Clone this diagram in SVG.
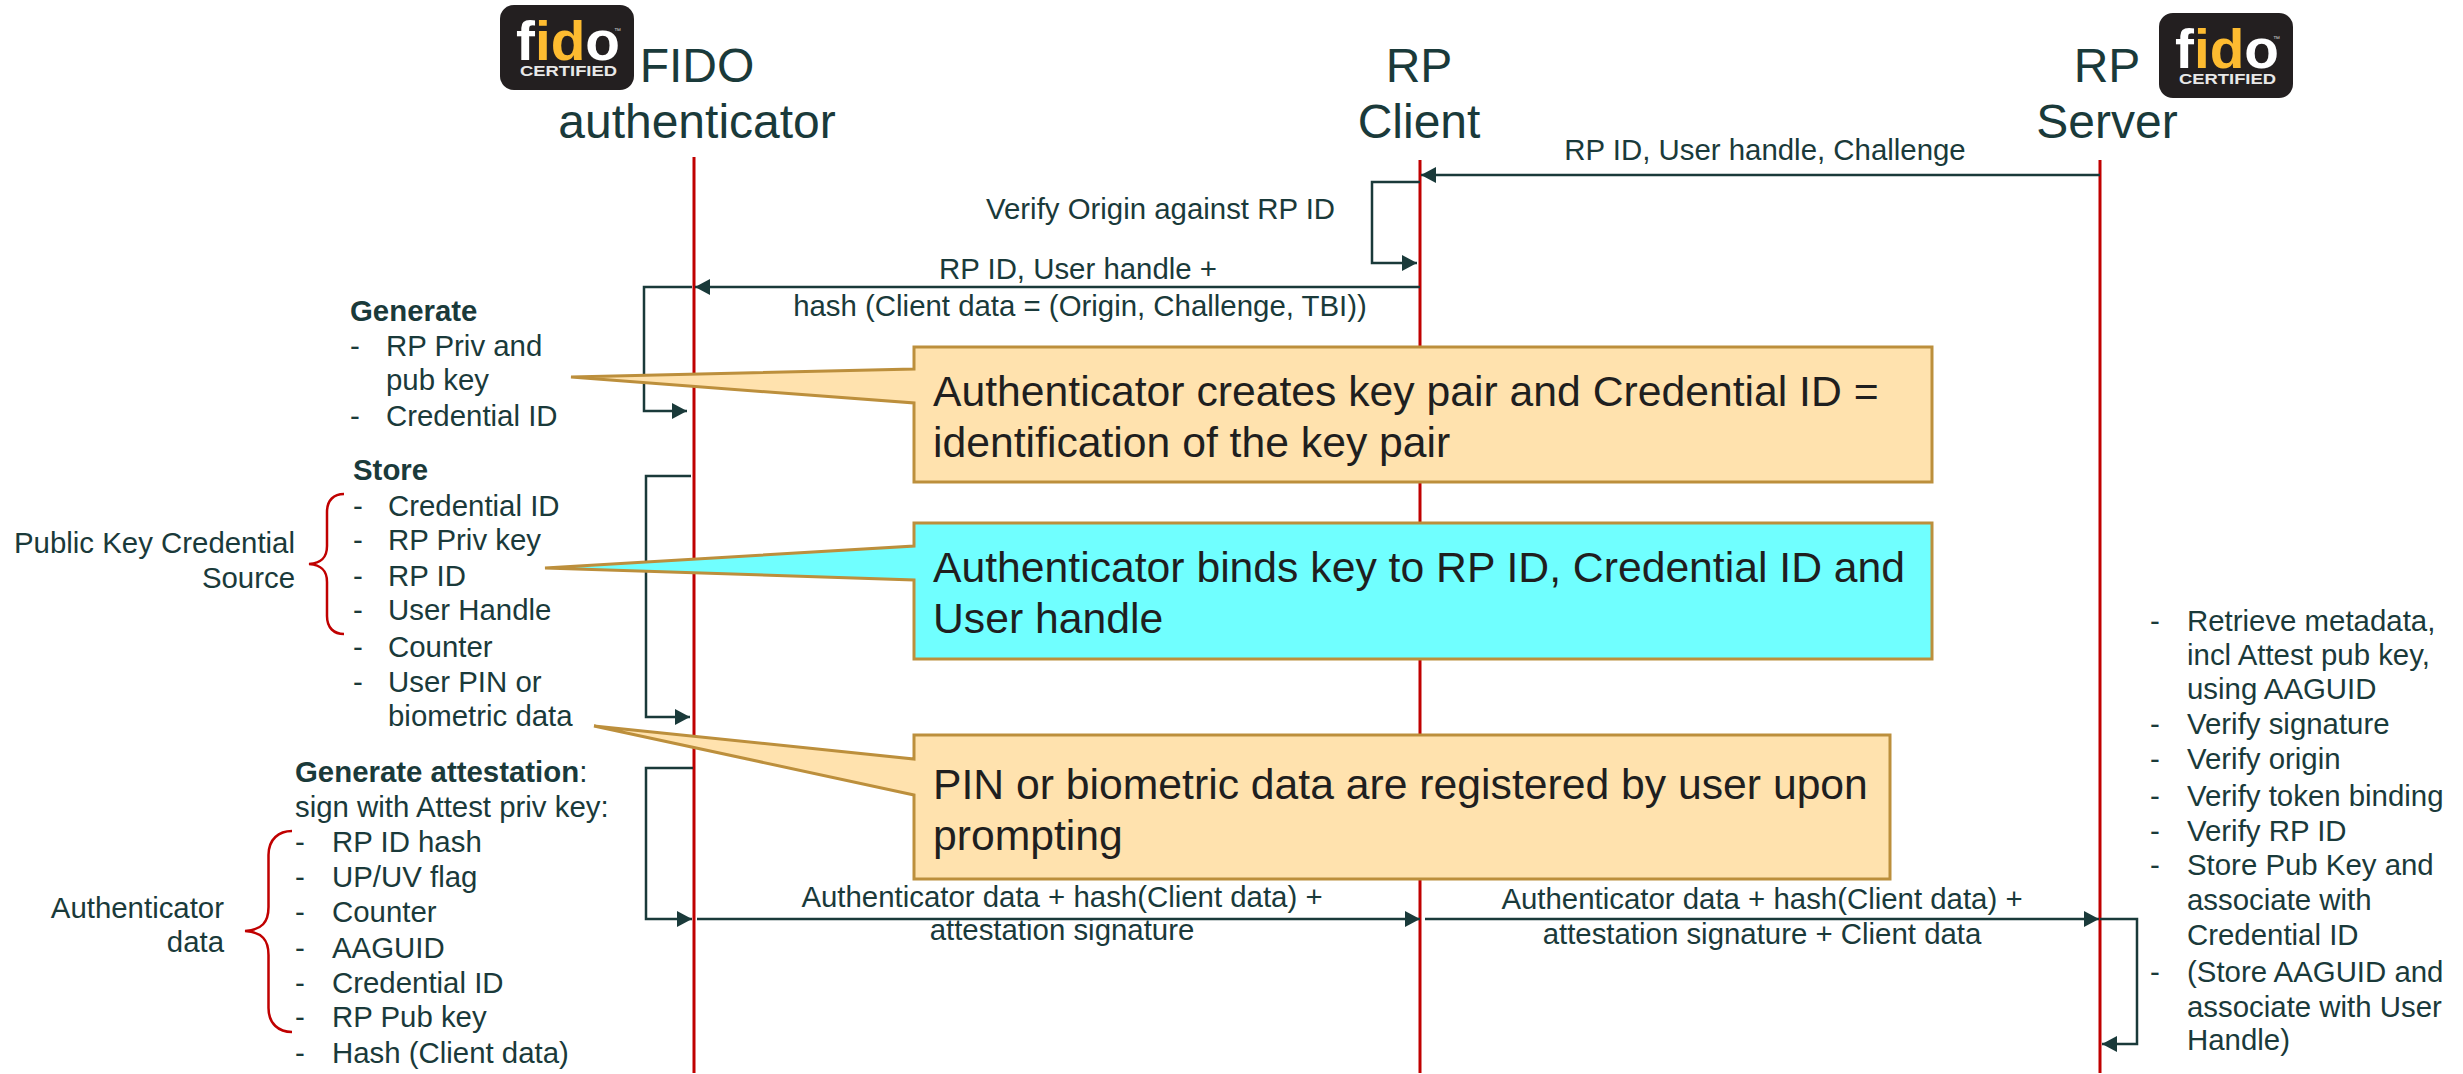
<svg xmlns="http://www.w3.org/2000/svg" xmlns:xlink="http://www.w3.org/1999/xlink" width="2463" height="1074" viewBox="0 0 2463 1074">
<style>
text{font-family:"Liberation Sans",Arial,sans-serif;fill:#1a3a3a;font-size:29.4px}
.t{font-size:48px}
.c{font-size:42.7px;fill:#1f1f1f}
.m{text-anchor:middle}
.e{text-anchor:end}
.b{font-weight:bold}
.life{stroke:#c00000;stroke-width:3;fill:none}
.brace{stroke:#c00000;stroke-width:2.5;fill:none}
.msg{stroke:#1a3a3a;stroke-width:2.5;fill:none}
.arr{marker-end:url(#ah)}
.call{stroke:#bc8f3c;stroke-width:3;stroke-linejoin:miter}
.or{fill:#ffe2ae}
.cy{fill:#70ffff}
.lg{font-weight:bold;font-size:56px}
.lc{font-weight:bold;font-size:15px;fill:#e8e8e8}
.tm{font-size:7px;fill:#ccc}
</style>
<defs>
<marker id="ah" markerUnits="userSpaceOnUse" markerWidth="16" markerHeight="16" refX="15" refY="8" orient="auto"><path d="M0 0L15 8L0 16Z" fill="#1a3a3a"/></marker>
<g id="logo">
<rect x="0" y="0" width="134" height="85" rx="14" fill="#231f20"/>
<text x="16" y="55" class="lg" textLength="104" lengthAdjust="spacingAndGlyphs"><tspan fill="#fff">f</tspan><tspan fill="#fdbb30">id</tspan><tspan fill="#fff">o</tspan></text>
<text x="114" y="28" class="tm">™</text>
<text x="20" y="71" class="lc" textLength="97" lengthAdjust="spacingAndGlyphs">CERTIFIED</text>
</g>
</defs>
<rect width="2463" height="1074" fill="#fff"/>
<g id="connectors">
<path class="life" d="M694 157V1073M1420 160V1073M2100 160V1073"/>
<path class="msg arr" d="M2100 175H1421"/>
<path class="msg arr" d="M1420 182H1372V263H1417"/>
<path class="msg arr" d="M1420 287H695"/>
<path class="msg arr" d="M692 287H644V411H687"/>
<path class="msg arr" d="M691 476H646V717H690"/>
<path class="msg arr" d="M693 768H646V919H692"/>
<path class="msg arr" d="M697 919H1420"/>
<path class="msg arr" d="M1425 919H2099"/>
<path class="msg arr" d="M2100 919H2137V1044H2102"/>
<path class="brace" d="M344 494C334 494 327 500 327 512V546C327 557 322 563 309 564C322 565 327 571 327 582V616C327 628 334 634 344 634"/>
<path class="brace" d="M292 831C279 831 268.500 839 268.500 855V907C268.500 922 262 930 245 931C262 932 268.500 940 268.500 955V1008C268.500 1024 279 1032 292 1032"/>
</g>
<g id="logo-left"><use href="#logo" x="500" y="5"/></g>
<g id="logo-right"><use href="#logo" x="2159" y="13"/></g>
<g id="fido-authenticator">
<text class="t m" x="697" y="82">FIDO</text>
<text class="t m" x="697" y="138">authenticator</text>
</g>
<g id="rp-client">
<text class="t m" x="1419" y="82">RP</text>
<text class="t m" x="1419" y="138">Client</text>
</g>
<g id="rp-server">
<text class="t m" x="2107" y="82">RP</text>
<text class="t m" x="2107" y="138">Server</text>
</g>
<g id="message-labels">
<text class="m" x="1765" y="160">RP ID, User handle, Challenge</text>
<text x="986" y="219">Verify Origin against RP ID</text>
<text class="e" x="1217" y="279">RP ID, User handle +</text>
<text class="m" x="1080" y="316">hash (Client data = (Origin, Challenge, TBI))</text>
<text class="m" x="1062" y="907">Authenticator data + hash(Client data) +</text>
<text class="m" x="1062" y="940">attestation signature</text>
<text class="m" x="1762" y="909">Authenticator data + hash(Client data) +</text>
<text class="m" x="1762" y="944">attestation signature + Client data</text>
</g>
<g id="generate-notes">
<text class="b" x="350" y="321">Generate</text>
<text x="350" y="356">-</text><text x="386" y="356">RP Priv and</text>
<text x="386" y="390">pub key</text>
<text x="350" y="426">-</text><text x="386" y="426">Credential ID</text>
</g>
<g id="store-notes">
<text class="b" x="353" y="480">Store</text>
<text x="353" y="516">-</text><text x="388" y="516">Credential ID</text>
<text x="353" y="550">-</text><text x="388" y="550">RP Priv key</text>
<text x="353" y="586">-</text><text x="388" y="586">RP ID</text>
<text x="353" y="620">-</text><text x="388" y="620">User Handle</text>
<text x="353" y="657">-</text><text x="388" y="657">Counter</text>
<text x="353" y="692">-</text><text x="388" y="692">User PIN or</text>
<text x="388" y="726">biometric data</text>
<text class="e" x="295" y="553">Public Key Credential</text>
<text class="e" x="295" y="588">Source</text>
</g>
<g id="attestation-notes">
<text x="295" y="782"><tspan class="b">Generate attestation</tspan>:</text>
<text x="295" y="817">sign with Attest priv key:</text>
<text x="295" y="852">-</text><text x="332" y="852">RP ID hash</text>
<text x="295" y="887">-</text><text x="332" y="887">UP/UV flag</text>
<text x="295" y="922">-</text><text x="332" y="922">Counter</text>
<text x="295" y="958">-</text><text x="332" y="958">AAGUID</text>
<text x="295" y="993">-</text><text x="332" y="993">Credential ID</text>
<text x="295" y="1027">-</text><text x="332" y="1027">RP Pub key</text>
<text x="295" y="1063">-</text><text x="332" y="1063">Hash (Client data)</text>
<text class="e" x="224" y="918">Authenticator</text>
<text class="e" x="224" y="952">data</text>
</g>
<g id="server-notes">
<text x="2150" y="631">-</text><text x="2187" y="631">Retrieve metadata,</text>
<text x="2187" y="665">incl Attest pub key,</text>
<text x="2187" y="699">using AAGUID</text>
<text x="2150" y="734">-</text><text x="2187" y="734">Verify signature</text>
<text x="2150" y="769">-</text><text x="2187" y="769">Verify origin</text>
<text x="2150" y="806">-</text><text x="2187" y="806">Verify token binding</text>
<text x="2150" y="841">-</text><text x="2187" y="841">Verify RP ID</text>
<text x="2150" y="875">-</text><text x="2187" y="875">Store Pub Key and</text>
<text x="2187" y="910">associate with</text>
<text x="2187" y="945">Credential ID</text>
<text x="2150" y="982">-</text><text x="2187" y="982">(Store AAGUID and</text>
<text x="2187" y="1017">associate with User</text>
<text x="2187" y="1050">Handle)</text>
</g>
<g id="callout-key-pair">
<path class="call or" d="M914 347H1932V482H914V403L571 377L914 369Z"/>
<text class="c" x="933" y="406">Authenticator creates key pair and Credential ID =</text>
<text class="c" x="933" y="457">identification of the key pair</text>
</g>
<g id="callout-binds">
<path class="call cy" d="M914 523H1932V659H914V580L545 568L914 546Z"/>
<text class="c" x="933" y="582">Authenticator binds key to RP ID, Credential ID and</text>
<text class="c" x="933" y="633">User handle</text>
</g>
<g id="callout-pin">
<path class="call or" d="M914 735H1890V879H914V795L594 726L914 759Z"/>
<text class="c" x="933" y="799">PIN or biometric data are registered by user upon</text>
<text class="c" x="933" y="850">prompting</text>
</g>
</svg>
